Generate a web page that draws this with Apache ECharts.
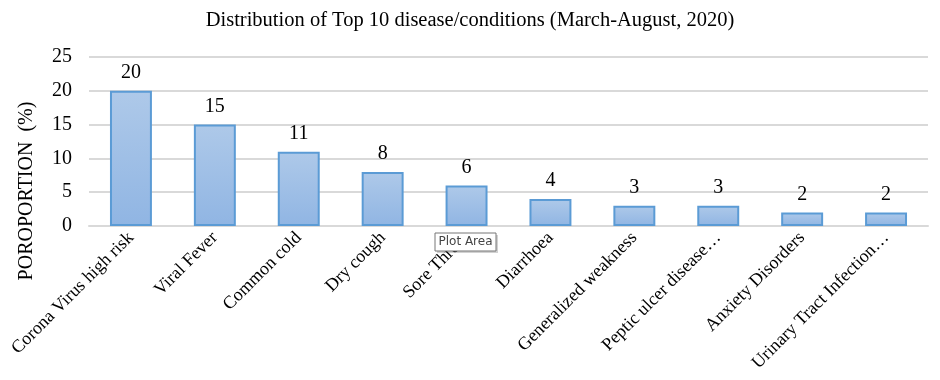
<!DOCTYPE html>
<html>
<head>
<meta charset="utf-8">
<script src="https://cdn.jsdelivr.net/npm/echarts@6/dist/echarts.min.js"></script>
<style>html,body{margin:0;padding:0;background:#fff;}#c{width:940px;height:380px;}</style>
</head>
<body>
<div id="c"></div>
<script>
const titleText = 'Distribution of Top 10 disease/conditions (March-August, 2020)';
const categories = ['Corona Virus high risk','Viral Fever','Common cold','Dry cough','Sore Throat','Diarrhoea','Generalized weakness','Peptic ulcer disease\u2026','Anxiety Disorders','Urinary Tract Infection\u2026'];
const values = [20, 15, 11, 8, 6, 4, 3, 3, 2, 2];
const yTicks = [0, 5, 10, 15, 20, 25];
const yAxisTitle = 'POROPORTION  (%)';

const serif = '"Liberation Serif", "Times New Roman", serif';
const chart = echarts.init(document.getElementById('c'));
chart.setOption({
  animation: false,
  title: {
    text: titleText, left: 'center', top: 5,
    textStyle: {fontFamily: serif, fontSize: 20.5, fontWeight: 'normal', color: '#000'}
  },
  grid: {left: 89, right: 12, top: 57, bottom: 154},
  xAxis: {
    type: 'category', data: categories,
    axisLine: {show: true, lineStyle: {color: '#d9d9d9', width: 2}},
    axisTick: {show: false},
    axisLabel: {rotate: 45, interval: 0, margin: 9, fontFamily: serif, fontSize: 18, color: '#000'}
  },
  yAxis: {
    type: 'value', min: yTicks[0], max: yTicks[yTicks.length - 1], interval: 5,
    axisLine: {show: false}, axisTick: {show: false},
    splitLine: {lineStyle: {color: '#d9d9d9', width: 2}},
    axisLabel: {margin: 17, fontFamily: serif, fontSize: 20, color: '#000'}
  },
  graphic: [
    {type: 'text', x: 27, y: 191, rotation: Math.PI / 2, z: 100,
     style: {text: yAxisTitle, font: '20px ' + serif, fill: '#000', textAlign: 'center', textVerticalAlign: 'middle'}},
    {type: 'group', x: 435, y: 233, z: 100, children: [
      {type: 'rect', z: 100, shape: {x: 2, y: 2, width: 61, height: 18}, style: {fill: 'rgba(0,0,0,0.18)'}},
      {type: 'rect', z: 101, shape: {x: 0, y: 0, width: 61, height: 18}, style: {fill: '#fff', stroke: '#767676', lineWidth: 1}},
      {type: 'text', z: 102, x: 30.5, y: 9, style: {text: 'Plot Area', font: '12px "DejaVu Sans", sans-serif', fill: '#444', textAlign: 'center', textVerticalAlign: 'middle'}}
    ]}
  ],
  series: [{
    type: 'bar', data: values, barCategoryGap: '50%',
    itemStyle: {
      borderColor: '#5b9bd5', borderWidth: 2,
      color: new echarts.graphic.LinearGradient(0, 0, 0, 1, [
        {offset: 0, color: '#aec9e9'}, {offset: 1, color: '#90b5e3'}
      ])
    },
    label: {show: true, position: 'top', distance: 8, fontFamily: serif, fontSize: 20, color: '#000'}
  }]
});
</script>
</body>
</html>
